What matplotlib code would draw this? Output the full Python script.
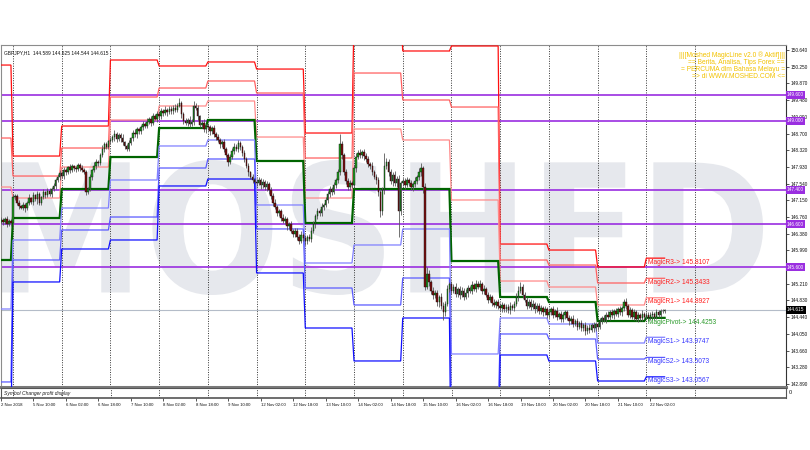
import numpy as np
import matplotlib
matplotlib.use("Agg")
import matplotlib.pyplot as plt
from matplotlib.textpath import TextPath
from matplotlib.patches import PathPatch
from matplotlib.font_manager import FontProperties
from matplotlib.transforms import Affine2D, blended_transform_factory

# ---- candle data (GBPJPY H1), one row per trading day ----
closes = (
    [146.70, 146.64, 146.72, 146.60, 146.68, 146.63] +
    [147.22, 147.25, 147.10, 147.02, 146.98, 147.05, 146.97, 147.08, 147.20, 147.12, 147.28, 147.18,
     147.30, 147.10, 147.22, 147.35, 147.28, 147.38, 147.30, 147.42, 147.48, 147.62, 147.70, 147.78] +
    [147.72, 147.85, 147.80, 147.92, 147.86, 147.95, 147.90, 147.88, 147.97, 147.90, 147.86, 147.80,
     147.35, 147.42, 147.70, 147.85, 147.95, 148.05, 148.02, 148.20, 148.35, 148.45, 148.40, 148.52] +
    [148.55, 148.62, 148.70, 148.58, 148.66, 148.60, 148.50, 148.42, 148.35, 148.48, 148.60, 148.72,
     148.68, 148.80, 148.75, 148.85, 148.92, 148.88, 148.98, 149.05, 148.95, 149.10, 149.05, 149.15] +
    [149.10, 149.22, 149.18, 149.25, 149.20, 149.28, 149.22, 149.30, 149.25, 149.35, 149.40, 149.15,
     149.00, 148.95, 149.02, 148.92, 148.98, 149.35, 149.30, 149.10, 148.90, 148.95, 148.80, 148.88] +
    [148.85, 148.75, 148.82, 148.70, 148.62, 148.55, 148.45, 148.50, 148.35, 148.20, 148.05, 148.15,
     148.30, 148.40, 148.35, 148.48, 148.38, 148.25, 148.10, 147.95, 147.80, 147.70, 147.62, 147.58] +
    [147.55, 147.62, 147.50, 147.58, 147.45, 147.52, 147.40, 147.25, 147.10, 147.00, 146.85, 146.90,
     146.75, 146.68, 146.72, 146.55, 146.60, 146.45, 146.38, 146.45, 146.30, 146.22, 146.35, 146.28] +
    [146.20, 146.30, 146.25, 146.45, 146.60, 146.78, 146.90, 146.85, 147.00, 147.05, 147.15, 147.30,
     147.42, 147.35, 147.50, 147.62, 147.80, 148.45, 148.20, 147.80, 147.60, 147.45, 147.55, 147.50] +
    [147.90, 148.15, 148.25, 148.20, 148.28, 148.18, 148.10, 148.00, 147.95, 147.80, 147.70, 147.62,
     147.35, 146.90, 147.40, 147.95, 148.05, 147.80, 147.60, 147.75, 147.55, 147.65, 146.90, 147.55] +
    [147.60, 147.50, 147.62, 147.55, 147.45, 147.52, 147.60, 147.70, 147.82, 147.90, 147.45, 145.15,
     145.45, 145.25, 145.05, 144.95, 145.00, 144.80, 144.90, 144.70, 144.55, 144.75, 145.10, 145.20] +
    [145.05, 145.15, 144.98, 145.10, 144.95, 145.05, 144.92, 145.00, 145.12, 145.05, 145.18, 145.10,
     145.22, 145.15, 145.20, 145.05, 145.10, 144.95, 144.85, 144.90, 144.78, 144.72, 144.80, 144.70] +
    [144.65, 144.72, 144.62, 144.68, 144.60, 144.70, 144.65, 144.75, 144.90, 145.05, 145.15, 144.95,
     144.85, 144.70, 144.80, 144.68, 144.75, 144.62, 144.70, 144.58, 144.65, 144.55, 144.62, 144.50] +
    [144.55, 144.62, 144.50, 144.58, 144.45, 144.52, 144.40, 144.48, 144.55, 144.42, 144.35, 144.40,
     144.28, 144.35, 144.22, 144.30, 144.18, 144.25, 144.12, 144.20, 144.15, 144.25, 144.18, 144.28] +
    [144.22, 144.35, 144.42, 144.38, 144.50, 144.45, 144.55, 144.48, 144.58, 144.52, 144.62, 144.55,
     144.65, 144.80, 144.70, 144.50, 144.60, 144.45, 144.55, 144.40, 144.48, 144.42, 144.52, 144.45] +
    [144.50, 144.42, 144.48, 144.52, 144.45, 144.55, 144.50, 144.58, 144.589, 144.615]
)
first_open = 146.66

# upper / lower shadow lengths in pips
wick_up = (
    [6, 4, 5, 8, 3, 5] +
    [8, 5, 4, 6, 3, 7, 4, 5, 9, 4, 6, 3, 8, 5, 4, 7, 3, 6, 5, 4, 8, 5, 6, 7] +
    [6, 8, 5, 4, 7, 5, 3, 6, 4, 5, 8, 4, 6, 5, 7, 4, 9, 5, 3, 6, 8, 5, 6, 4] +
    [7, 5, 8, 4, 6, 5, 9, 4, 5, 7, 3, 6, 8, 5, 4, 6, 7, 5, 9, 4, 6, 8, 5, 7] +
    [6, 8, 5, 9, 4, 7, 5, 6, 8, 5, 12, 6, 4, 7, 5, 8, 6, 10, 5, 7, 4, 6, 8, 5] +
    [7, 5, 6, 9, 4, 8, 5, 6, 7, 4, 5, 8, 6, 9, 5, 7, 4, 6, 8, 5, 7, 4, 6, 5] +
    [6, 8, 5, 7, 4, 9, 6, 5, 7, 8, 5, 6, 4, 9, 7, 5, 6, 8, 4, 7, 5, 6, 8, 5] +
    [7, 5, 6, 9, 8, 5, 7, 6, 8, 5, 9, 6, 7, 5, 8, 6, 9, 25, 7, 5, 8, 6, 7, 5] +
    [8, 10, 6, 9, 5, 7, 6, 8, 5, 9, 6, 7, 8, 6, 6, 30, 8, 7, 9, 6, 8, 7, 10, 6] +
    [7, 6, 8, 5, 7, 6, 9, 5, 8, 12, 6, 10, 15, 8, 6, 9, 7, 8, 6, 10, 9, 7, 8, 6] +
    [8, 6, 9, 5, 7, 8, 6, 10, 7, 5, 9, 6, 8, 7, 10, 6, 8, 5, 7, 9, 6, 8, 5, 7] +
    [6, 8, 5, 7, 6, 9, 5, 7, 10, 12, 10, 6, 8, 5, 7, 6, 8, 5, 7, 6, 8, 5, 7, 6] +
    [7, 5, 8, 6, 9, 5, 7, 8, 6, 5, 7, 6, 8, 5, 7, 6, 8, 5, 7, 6, 8, 5, 7, 6] +
    [6, 8, 5, 7, 6, 8, 5, 7, 6, 8, 5, 7, 5, 6, 8, 5, 7, 6, 8, 5, 7, 6, 8, 5] +
    [6, 5, 7, 6, 5, 7, 6, 5, 4, 1]
)
wick_dn = (
    [5, 7, 4, 6, 5, 8] +
    [10, 6, 5, 7, 4, 6, 8, 5, 4, 6, 7, 5, 12, 6, 5, 4, 7, 6, 5, 8, 4, 6, 5, 7] +
    [5, 7, 6, 4, 8, 5, 6, 7, 4, 6, 5, 4, 8, 6, 5, 7, 4, 6, 8, 5, 4, 7, 5, 6] +
    [6, 5, 8, 7, 5, 9, 6, 8, 5, 6, 4, 7, 5, 8, 6, 5, 7, 4, 6, 5, 8, 6, 4, 7] +
    [5, 7, 6, 4, 8, 5, 6, 7, 5, 6, 4, 9, 7, 5, 8, 6, 5, 7, 6, 9, 5, 7, 6, 8] +
    [6, 8, 5, 7, 6, 5, 8, 6, 7, 5, 9, 6, 5, 7, 6, 8, 5, 7, 6, 5, 8, 6, 7, 5] +
    [7, 5, 8, 6, 5, 7, 9, 6, 8, 5, 7, 6, 8, 5, 7, 9, 6, 5, 8, 7, 6, 9, 5, 7] +
    [8, 6, 5, 7, 6, 8, 5, 7, 6, 8, 5, 7, 6, 8, 5, 7, 6, 5, 9, 7, 8, 6, 5, 7] +
    [6, 8, 5, 7, 6, 9, 5, 8, 6, 7, 5, 8, 10, 13, 8, 9, 7, 8, 7, 12, 6, 8, 60, 8] +
    [6, 8, 5, 7, 6, 9, 5, 7, 8, 10, 12, 8, 6, 9, 7, 8, 6, 10, 12, 8, 17, 9, 6, 8] +
    [7, 5, 8, 6, 9, 5, 7, 6, 8, 5, 7, 6, 8, 5, 7, 6, 8, 5, 7, 6, 8, 5, 7, 6] +
    [6, 8, 5, 7, 6, 8, 5, 7, 6, 8, 5, 7, 6, 8, 5, 7, 6, 8, 5, 7, 6, 8, 5, 7] +
    [7, 5, 8, 6, 7, 5, 8, 6, 7, 5, 8, 6, 7, 5, 8, 6, 7, 5, 10, 6, 7, 5, 8, 6] +
    [8, 6, 7, 5, 8, 6, 7, 5, 8, 6, 7, 5, 8, 6, 7, 5, 8, 6, 7, 5, 8, 6, 7, 5] +
    [6, 7, 5, 6, 7, 5, 6, 5, 5, 4.5]
)

# ---- MagicLine daily levels (pivot, R1, S1) for each day shown ----
day_start = [0, 6, 30, 54, 78, 102, 126, 150, 174, 198, 222, 246, 270, 294, 318]
pivot = [145.768, 146.742, 147.415, 148.157, 148.830, 149.016, 148.065, 146.626,
         147.415, 147.415, 145.744, 144.909, 144.793, 144.352, 144.4253]
r1 = [147.461, 147.206, 147.925, 149.016, 149.341, 149.457, 148.621, 147.206,
      148.807, 148.552, 147.160, 145.280, 145.141, 144.724, 144.8927]
s1 = [144.631, 146.232, 146.974, 147.624, 148.413, 148.552, 147.044, 145.698,
      146.116, 146.487, 143.587, 144.422, 144.283, 143.842, 143.9747]

# horizontal levels drawn by the user
h_levels = [149.6, 149.0, 147.4, 146.6, 145.6]
cur_price = 144.615

# price scale labels (145.600 sits under the purple level tag)
price_ticks = [150.640, 150.250, 149.870, 149.480, 149.090, 148.700, 148.320, 147.930, 147.540,
               147.150, 146.760, 146.380, 145.990, 145.210, 144.830, 144.440, 144.050,
               143.660, 143.280, 142.890]
time_labels = ["2 Nov 2018", "5 Nov 10:00", "6 Nov 02:00", "6 Nov 18:00", "7 Nov 10:00",
               "8 Nov 02:00", "8 Nov 18:00", "9 Nov 10:00", "12 Nov 02:00", "12 Nov 18:00",
               "13 Nov 10:00", "14 Nov 02:00", "14 Nov 18:00", "15 Nov 10:00", "16 Nov 02:00",
               "16 Nov 18:00", "19 Nov 10:00", "20 Nov 02:00", "20 Nov 18:00", "21 Nov 10:00",
               "22 Nov 02:00"]
separators = [6 + 24 * k for k in range(15)]

closes = np.array(closes)
n = len(closes)
assert n == 328 and len(wick_up) == n and len(wick_dn) == n
opens = np.concatenate([[first_open], closes[:-1]])
highs = np.maximum(opens, closes) + np.array(wick_up) * 0.01
lows = np.minimum(opens, closes) - np.array(wick_dn) * 0.01
idx = np.arange(n)

pivot = np.array(pivot); r1 = np.array(r1); s1 = np.array(s1)
rng = r1 - s1
levels = {
    "R3": r1 + rng, "R2": pivot + rng, "R1": r1, "P": pivot,
    "S1": s1, "S2": pivot - rng, "S3": s1 - rng,
}
styles = {
    "R3": ("#ff1010", 0.9), "R2": ("#ff6060", 0.9), "R1": ("#ff8a8a", 0.9),
    "P": ("#006400", 1.6),
    "S1": ("#8080ff", 0.9), "S2": ("#5a5aff", 0.9), "S3": ("#1010ff", 0.9),
}
day_end = [e - 1 for e in day_start[1:]] + [n - 1]

SANS = ["Liberation Sans", "DejaVu Sans"]
PURPLE = "#9a2ee0"

fig = plt.figure(figsize=(8.1, 4.5), dpi=100)
ax = fig.add_axes([1 / 810, 63 / 450, 785 / 810, 342 / 450])
sub = fig.add_axes([1 / 810, 52 / 450, 785 / 810, 10 / 450])

ax.set_xlim(0.1, 386.8)
ax.set_ylim(142.821, 150.756)

# watermark
tp = TextPath((0, 0), "MOSHED", size=1, prop=FontProperties(family="DejaVu Sans", weight="bold"))
bb = tp.get_extents()
x0, x1, y0, y1 = -0.4, 375.5, 144.956, 148.088
tr = Affine2D().translate(-bb.x0, -bb.y0).scale((x1 - x0) / bb.width, (y1 - y0) / bb.height).translate(x0, y0)
ax.add_patch(PathPatch(tp, transform=tr + ax.transData, fc="#e6e8ed", ec="none", zorder=0))

# day separators
for s in separators:
    ax.axvline(s, color="#333333", lw=0.7, ls=(0, (1, 1.5)), zorder=1)
    sub.axvline(s, color="#333333", lw=0.7, ls=(0, (1, 1.5)), zorder=1)

# horizontal lines
for h in h_levels:
    ax.axhline(h, color=PURPLE, lw=1.2, zorder=2)
ax.axhline(cur_price, color="#b4bcc8", lw=0.8, zorder=2)

# MagicLine levels
for name, vals in levels.items():
    xs, ys = [], []
    for k in range(len(day_start)):
        xs += [day_start[k], day_end[k]]
        ys += [vals[k], vals[k]]
    c, lw = styles[name]
    ax.plot(xs, ys, color=c, lw=lw, zorder=3, solid_joinstyle="miter")

# candles
ax.vlines(idx, lows, highs, color="#5a5a5a", lw=0.6, zorder=4)
bull = closes >= opens
body_lo = np.minimum(opens, closes)
body_h = np.maximum(np.abs(closes - opens), 0.012)
ax.bar(idx[bull], body_h[bull], bottom=body_lo[bull], width=0.75, color="#1f9a1f",
       edgecolor="#111111", lw=0.3, zorder=5)
ax.bar(idx[~bull], body_h[~bull], bottom=body_lo[~bull], width=0.75, color="#7a0f0f",
       edgecolor="#111111", lw=0.3, zorder=5)

# last day labels
last = len(day_start) - 1
lab_cols = {"R3": "#ff2020", "R2": "#ff2020", "R1": "#ff2020", "P": "#2a9a2a",
            "S1": "#3535ff", "S2": "#3535ff", "S3": "#3535ff"}
lab_names = {"R3": "MagicR3", "R2": "MagicR2", "R1": "MagicR1", "P": "MagicPivot",
             "S1": "MagicS1", "S2": "MagicS2", "S3": "MagicS3"}
for name, vals in levels.items():
    ax.text(day_start[last] + 0.8, vals[last] - 0.015, f"{lab_names[name]}-> {vals[last]:.4f}",
            color=lab_cols[name], fontsize=4.8, family=SANS, va="top", ha="left", zorder=6)

# header and info text
ax.text(0.004, 0.985, "GBPJPY,H1  144.589 144.625 144.544 144.615", transform=ax.transAxes,
        fontsize=3.5, family=SANS, va="top", ha="left", color="#111111", zorder=7)
info = ["|||[Moshed MagicLine v2.0 \u00ae Aktif]|||", "== Berita, Analisa, Tips Forex ==",
        "= PERCUMA dlm Bahasa Melayu =", "=> di WWW.MOSHED.COM <="]
for i, t in enumerate(info):
    ax.text(0.9985, 0.97 - i * 0.0205, t, transform=ax.transAxes, fontsize=4.8, family=SANS,
            va="center", ha="right", color="#f2c200", zorder=7)

# right price axis
ax.yaxis.tick_right()
ax.set_yticks(price_ticks)
ax.set_yticklabels([f"{t:.3f}" for t in price_ticks], fontsize=3.4, family=SANS)
ax.tick_params(axis="y", length=2, width=0.5, pad=1, colors="#111111")
ax.set_xticks([])
bt = blended_transform_factory(ax.transAxes, ax.transData)
for h in h_levels:
    ax.text(1.0012, h, f"{h:.3f}", transform=bt, fontsize=3.4, family=SANS, color="white",
            va="center", ha="left", zorder=8,
            bbox=dict(boxstyle="square,pad=0.3", fc=PURPLE, ec="none"), clip_on=False)
ax.text(1.0012, cur_price, f"{cur_price:.3f}", transform=bt, fontsize=3.4, family=SANS,
        color="white", va="center", ha="left", zorder=8,
        bbox=dict(boxstyle="square,pad=0.3", fc="black", ec="none"), clip_on=False)

for sp in ["top", "left"]:
    ax.spines[sp].set_color("#8c8c8c")
    ax.spines[sp].set_linewidth(0.8)
ax.spines["right"].set_color("#333333")
ax.spines["right"].set_linewidth(0.8)
ax.spines["bottom"].set_color("#7a7a7a")
ax.spines["bottom"].set_linewidth(2.2)

# sub window
sub.set_xlim(0.1, 386.8)
sub.set_ylim(0, 1)
sub.set_yticks([])
sub.text(0.004, 0.5, "Symbol Changer profit display", transform=sub.transAxes, fontsize=3.6,
         family=SANS, style="italic", va="center", ha="left", color="#222222")
sub.text(1.004, 0.5, "0", transform=sub.transAxes, fontsize=4, family=SANS, va="center",
         ha="left", color="#111111")
tick_pos = [16 * k for k in range(len(time_labels))]
sub.set_xticks(tick_pos)
sub.set_xticklabels(time_labels, fontsize=3.1, family=SANS)
sub.tick_params(axis="x", length=2.5, width=0.5, pad=1, colors="#111111")
for lbl in sub.get_xticklabels():
    lbl.set_horizontalalignment("left")
for sp in ["top", "left", "right", "bottom"]:
    sub.spines[sp].set_color("#555555")
    sub.spines[sp].set_linewidth(0.8)
sub.spines["bottom"].set_linewidth(1.2)

fig.savefig("out.png", dpi=100, facecolor="white")
